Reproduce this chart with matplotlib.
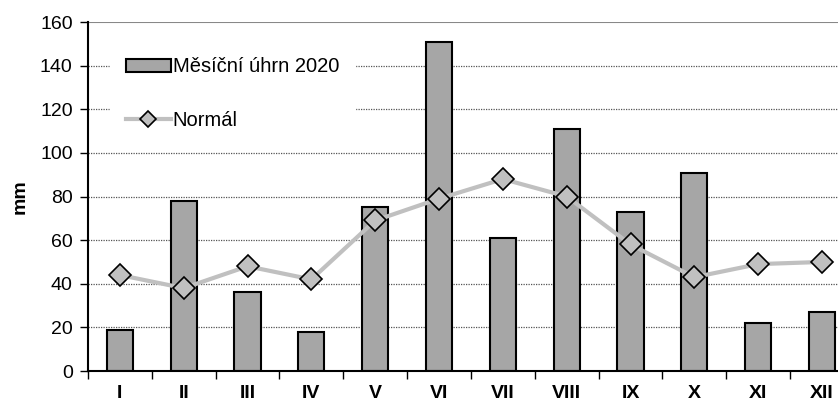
import numpy as np
import matplotlib.pyplot as plt
from matplotlib.lines import Line2D
from matplotlib.patches import Patch

plt.rcParams['font.family'] = ['Liberation Sans', 'DejaVu Sans']

months = ["I", "II", "III", "IV", "V", "VI", "VII", "VIII", "IX", "X", "XI", "XII"]
uhrn_2020 = [19, 78, 36, 18, 75, 151, 61, 111, 73, 91, 22, 27]
normal = [44, 38, 48, 42, 69, 79, 88, 80, 58, 43, 49, 50]

x = np.arange(len(months))

fig = plt.figure(figsize=(8.38, 4.03), dpi=100)
ax = fig.add_axes([0.105, 0.0794, 0.914, 0.866])

# dotted horizontal grid, solid line on top
for y in range(20, 160, 20):
    ax.axhline(y, color="#555555", lw=0.9, ls=(0, (1, 1)), zorder=0)
ax.axhline(160, color="#888888", lw=1.5, zorder=0)

ax.bar(x, uhrn_2020, width=0.41, color="#a6a6a6", edgecolor="black", lw=1.5, zorder=2)
ax.plot(x, normal, color="#c0c0c0", lw=3, marker="D", markersize=11,
        markerfacecolor="#c0c0c0", markeredgecolor="black", markeredgewidth=1.2, zorder=3)

ax.set_xlim(-0.5, 11.5)
ax.set_ylim(0, 160)
ax.set_yticks(range(0, 161, 20))
ax.tick_params(axis="y", labelsize=14, length=6, width=1, direction="out", pad=5)

ax.set_xticks(x)
ax.set_xticklabels(months, fontsize=14, fontweight="bold")
ax.set_xticks(np.arange(-0.5, 11.6, 1), minor=True)
ax.tick_params(axis="x", which="major", length=0, pad=10)
ax.tick_params(axis="x", which="minor", length=6, width=1, direction="out")

ax.set_ylabel("mm", fontsize=14, fontweight="bold", labelpad=8)

for side in ("top", "right"):
    ax.spines[side].set_visible(False)
ax.spines["left"].set_linewidth(1.5)
ax.spines["bottom"].set_linewidth(1.5)

handles = [
    Patch(facecolor="#a6a6a6", edgecolor="black", lw=1.5),
    Line2D([], [], color="#c0c0c0", lw=3, marker="D", markersize=8,
           markerfacecolor="#c0c0c0", markeredgecolor="black", markeredgewidth=1.2),
]
leg = ax.legend(handles, ["Měsíční úhrn 2020", "Normál"], loc="upper left",
                bbox_to_anchor=(0.029, 0.945), borderaxespad=0, frameon=True,
                fontsize=14.5, handlelength=2.2, handleheight=0.6, handletextpad=0.1,
                labelspacing=1.7, borderpad=0.8)
leg.get_frame().set_facecolor("white")
leg.get_frame().set_edgecolor("white")
leg.get_frame().set_alpha(1)
leg.get_frame().set_boxstyle("square", pad=0)

fig.savefig("out.png", dpi=100)
